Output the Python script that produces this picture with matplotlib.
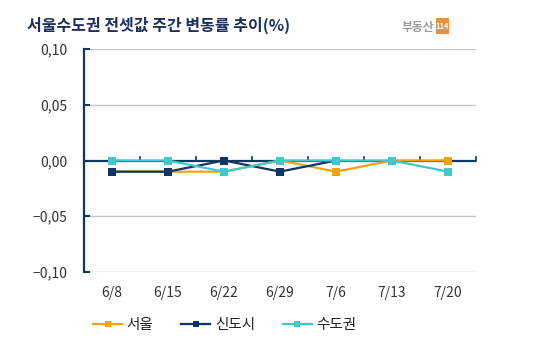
import numpy as np
import matplotlib
matplotlib.use("Agg")
import matplotlib.pyplot as plt
from matplotlib.lines import Line2D
from matplotlib.patches import Rectangle

plt.rcParams['font.family'] = ['Noto Sans CJK KR', 'DejaVu Sans']

dates = ["6/8", "6/15", "6/22", "6/29", "7/6", "7/13", "7/20"]
seoul = [-0.01, -0.01, -0.01, 0.0, -0.01, 0.0, 0.0]
newtown = [-0.01, -0.01, 0.0, -0.01, 0.0, np.nan, np.nan]
metro = [0.0, 0.0, -0.01, 0.0, 0.0, 0.0, -0.01]
yticks = [-0.10, -0.05, 0.0, 0.05, 0.10]
ytick_labels = ["−0,10", "−0,05", "0,00", "0,05", "0,10"]
series_names = ["서울", "신도시", "수도권"]

c_seoul = "#F7A10C"
c_new = "#0E3566"
c_metro = "#3FC9CB"
navy = "#0E3566"

W, H = 545, 363
fig = plt.figure(figsize=(W / 100, H / 100), dpi=100)
ax = fig.add_axes([84 / W, 1 - 272 / H, (476 - 84) / W, (272 - 49) / H])

x = np.arange(len(dates))
ax.set_xlim(-0.5, len(dates) - 0.5)
ax.set_ylim(-0.10, 0.10)

for yv in [-0.10, -0.05, 0.05, 0.10]:
    ax.axhline(yv, color="#C4C4C4", lw=1.0, zorder=1)
ax.axhline(0, color=navy, lw=1.6, zorder=2)
# small ticks on the zero line at category boundaries
for xb in np.arange(0.5, len(dates) + 0.5, 1.0):
    ax.plot([xb, xb], [0, 0.003], color=navy, lw=1.2, zorder=2, clip_on=False)

kw = dict(lw=1.6, marker="s", markersize=5.5, markeredgewidth=0, zorder=3)
ax.plot(x, seoul, color=c_seoul, **kw)
ax.plot(x, newtown, color=c_new, **kw)
ax.plot(x, metro, color=c_metro, **kw)

for s in ["top", "right", "bottom"]:
    ax.spines[s].set_visible(False)
ax.spines["left"].set_color(navy)
ax.spines["left"].set_linewidth(1.6)

ax.set_yticks(yticks)
ax.set_yticklabels(ytick_labels, fontsize=10, color="#333333")
ax.tick_params(axis="y", direction="in", length=4, width=1.4, color=navy, pad=12)
ax.set_xticks(x)
ax.set_xticklabels(dates, fontsize=10, color="#333333")
ax.tick_params(axis="x", length=0, pad=10)

fig.text(27 / W, 1 - 25 / H, "서울수도권 전셋값 주간 변동률 추이(%)", fontsize=11.5,
         fontweight="bold", color="#1B2F5E", va="center", ha="left")

# logo
fig.text(434 / W, 1 - 27 / H, "부동산", fontsize=8.5, color="#9A9A9A",
         fontweight="bold", va="center", ha="right")
fig.patches.append(Rectangle((436 / W, 1 - 34 / H), 13 / W, 16 / H,
                             transform=fig.transFigure, facecolor="#E8923A",
                             edgecolor="none"))
fig.text(442.5 / W, 1 - 26.5 / H, "114", fontsize=5.5, color="white",
         fontweight="bold", va="center", ha="center")

# legend
handles = [Line2D([], [], color=c, lw=1.6, marker="s", markersize=4.5,
                  markeredgewidth=0) for c in [c_seoul, c_new, c_metro]]
leg = fig.legend(handles, series_names, loc="center left",
                 bbox_to_anchor=(80 / W, 1 - 325 / H), ncol=3, frameon=False,
                 fontsize=10.5, handlelength=2.0, handletextpad=0.3,
                 columnspacing=1.9)
for t in leg.get_texts():
    t.set_color("#222222")

fig.savefig("out.png", dpi=100, facecolor="white")
